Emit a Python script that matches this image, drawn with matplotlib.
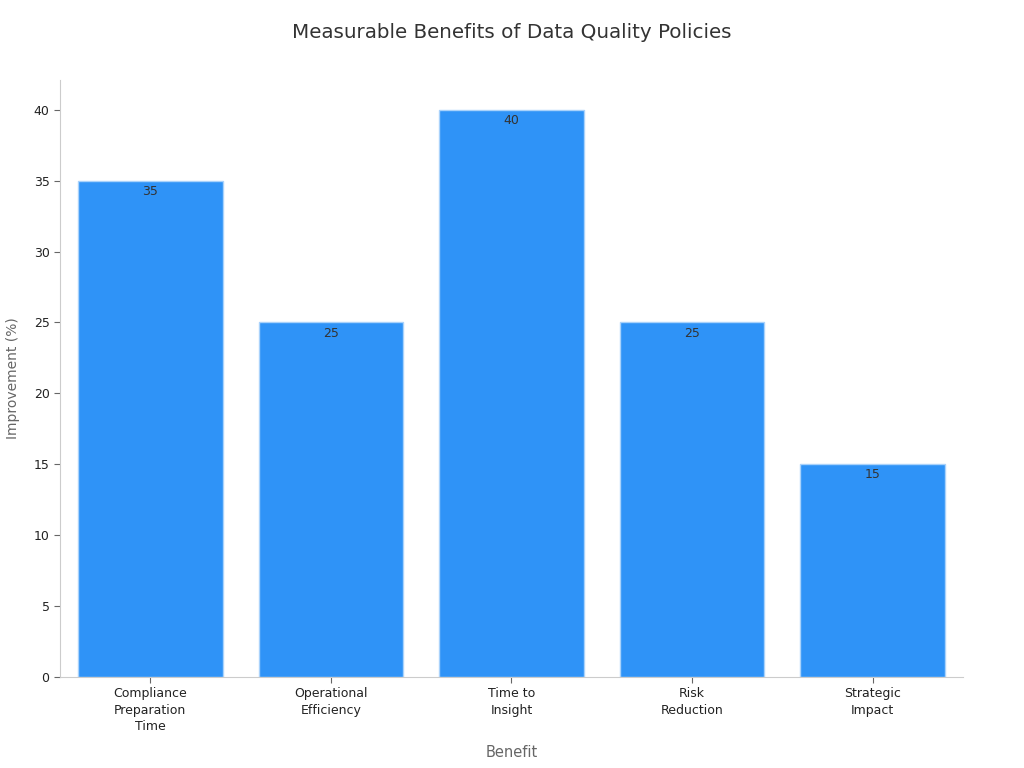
import matplotlib
matplotlib.use("Agg")
import matplotlib.pyplot as plt

categories = ["Compliance\nPreparation\nTime", "Operational\nEfficiency", "Time to\nInsight", "Risk\nReduction", "Strategic\nImpact"]
values = [35, 25, 40, 25, 15]

fig = plt.figure(figsize=(10.24, 7.68), dpi=100)
ax = fig.add_axes([0.0586, 0.1185, 0.8818, 0.7773])

x = list(range(len(categories)))
bars = ax.bar(x, values, width=0.8, color="#2f93f7", edgecolor="#a9d2fb", linewidth=1)
for xi, v in zip(x, values):
    ax.annotate(f"{v}", (xi, v), xytext=(0, -3), textcoords="offset points",
                ha="center", va="top", fontsize=9, color="#333333")

ax.set_xlim(-0.5, 4.5)
ax.set_ylim(0, 42.1)
ax.set_yticks(range(0, 41, 5))
ax.set_xticks(x)
ax.set_xticklabels(categories, fontsize=9, color="#222222", linespacing=1.35)
ax.tick_params(axis="y", labelsize=9, labelcolor="#222222", color="#666666", length=4)
ax.tick_params(axis="x", color="#666666", length=4)
for s in ["top", "right"]:
    ax.spines[s].set_visible(False)
for s in ["left", "bottom"]:
    ax.spines[s].set_color("#cccccc")
ax.set_xlabel("Benefit", fontsize=10.5, color="#666666", labelpad=8)
ax.set_ylabel("Improvement (%)", fontsize=10, color="#666666", labelpad=10)
fig.suptitle("Measurable Benefits of Data Quality Policies", fontsize=14.3, color="#333333", y=0.97)

fig.savefig("out.png", dpi=100)
